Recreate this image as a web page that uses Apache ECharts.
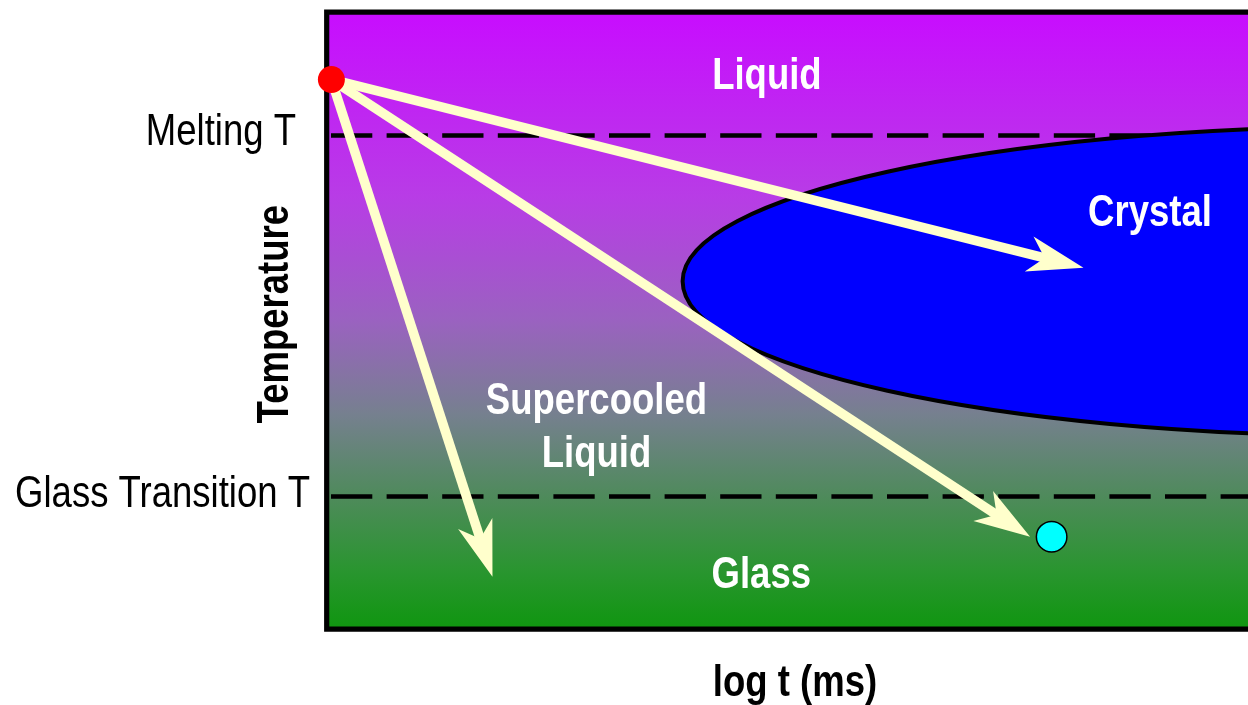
<!DOCTYPE html>
<html>
<head>
<meta charset="utf-8">
<script src="https://cdn.jsdelivr.net/npm/echarts@6/dist/echarts.min.js"></script>
<style>
html,body{margin:0;padding:0;background:#fff;}
#chart{width:1248px;height:705px;}
</style>
</head>
<body>
<div id="chart"></div>
<script>
// ---- data ----
const xRange = [0, 10];            // log t (ms), arbitrary units
const yRange = [0, 10];            // temperature, arbitrary units
const xAxisTitle = 'log t (ms)';
const yAxisTitle = 'Temperature';
const thresholdNames = ['Melting T', 'Glass Transition T'];
const thresholdTemps = [8.0, 2.15];
const startPoint = [0.05, 8.91];   // red dot (melt)
const endPoint = [7.74, 1.50];     // cyan dot (glass)
const arrowTips = [[8.08, 5.86], [1.77, 0.85], [7.51, 1.50]];
const crystalCenter = [11.27, 5.64];
const crystalRadii = [7.47, 2.51];
const regionNames = ['Liquid', 'Crystal', 'Supercooled\nLiquid', 'Glass'];
const regionX = [4.70, 8.79, 2.88, 4.64];
const regionY = [8.99, 6.78, 3.29, 0.90];

// ---- styles ----
const FONT = '"Liberation Sans", Arial, sans-serif';
const NARROW = 0.83;               // narrow typeface look
const TEXT_DY = 2.5;               // baseline tweak for cap-height centring
const ARROW = '#ffffcc';

const chart = echarts.init(document.getElementById('chart'), null, {renderer: 'canvas'});

function textEl(x, y, text, o) {
  const rot = o.rotation || 0;
  return {
    type: 'text',
    x: x + (rot ? TEXT_DY : 0),
    y: y + (rot ? 0 : TEXT_DY),
    scaleX: NARROW, rotation: rot,
    style: {
      text: text, fill: o.color, font: (o.bold ? 'bold ' : '') + '44px ' + FONT,
      align: o.align || 'center', verticalAlign: 'middle', lineHeight: o.lineHeight || 53
    }
  };
}

const thresholdSeries = thresholdTemps.map((t, i) => ({
  type: 'line',
  name: thresholdNames[i],
  data: [[xRange[0], t], [xRange[1], t]],
  symbol: 'none',
  silent: true,
  z: 1,
  lineStyle: {color: '#000', width: 4.5, type: [41.3, 14.3], dashOffset: 51.3}
}));

const labelGapX = [30.7, 16.7];   // gap from plot edge to label end
const labelRaise = [5.5, 4];

const option = {
  animation: false,
  grid: {
    left: 326.7, top: 12.2, width: 936.6, height: 617,
    show: true,
    borderColor: '#000', borderWidth: 5.2,
    outerBoundsMode: 'none',
    backgroundColor: {
      type: 'linear', x: 0, y: 0, x2: 0, y2: 1,
      colorStops: [
        {offset: 0, color: '#c80cff'},
        {offset: 0.3, color: '#b83ce6'},
        {offset: 0.5, color: '#9a62c0'},
        {offset: 0.65, color: '#76808f'},
        {offset: 0.78, color: '#4f8a5c'},
        {offset: 0.9, color: '#2a9530'},
        {offset: 1, color: '#0e960e'}
      ]
    }
  },
  xAxis: {
    type: 'value', min: xRange[0], max: xRange[1],
    axisLine: {show: false}, axisTick: {show: false},
    axisLabel: {show: false}, splitLine: {show: false}
  },
  yAxis: {
    type: 'value', min: yRange[0], max: yRange[1],
    axisLine: {show: false}, axisTick: {show: false},
    axisLabel: {show: false}, splitLine: {show: false}
  },
  series: thresholdSeries.concat([
    {
      type: 'custom',
      name: 'Crystal',
      z: 2,
      silent: true,
      data: [[crystalCenter[0], crystalCenter[1], crystalRadii[0], crystalRadii[1]]],
      encode: {x: 0, y: 1},
      renderItem: function (params, api) {
        const c = api.coord([api.value(0), api.value(1)]);
        const s = api.size([api.value(2), api.value(3)]);
        return {
          type: 'ellipse',
          shape: {cx: c[0], cy: c[1], rx: s[0], ry: s[1]},
          style: {fill: '#0000ff', stroke: '#000', lineWidth: 4}
        };
      }
    },
    {
      type: 'custom',
      name: 'paths',
      z: 3,
      silent: true,
      data: arrowTips.map(t => [startPoint[0], startPoint[1], t[0], t[1]]),
      encode: {x: [0, 2], y: [1, 3]},
      renderItem: function (params, api) {
        const p0 = api.coord([api.value(0), api.value(1)]);
        const p1 = api.coord([api.value(2), api.value(3)]);
        const dx = p1[0] - p0[0], dy = p1[1] - p0[1];
        const L = Math.hypot(dx, dy);
        const ux = dx / L, uy = dy / L, nx = -uy, ny = ux;
        const HL = 56, HW = 18, NB = 40;
        const bx = p1[0] - ux * HL, by = p1[1] - uy * HL;
        return {
          type: 'group',
          children: [
            {type: 'line', shape: {x1: p0[0], y1: p0[1], x2: p1[0] - ux * (NB - 4), y2: p1[1] - uy * (NB - 4)},
             style: {stroke: ARROW, lineWidth: 9.5}},
            {type: 'polygon', shape: {points: [
              [p1[0], p1[1]],
              [bx + nx * HW, by + ny * HW],
              [p1[0] - ux * NB, p1[1] - uy * NB],
              [bx - nx * HW, by - ny * HW]
            ]}, style: {fill: ARROW}}
          ]
        };
      }
    },
    {
      type: 'scatter', name: 'start', z: 4, silent: true,
      data: [startPoint], symbolSize: 27,
      itemStyle: {color: '#ff0000', opacity: 1}
    },
    {
      type: 'scatter', name: 'end', z: 4, silent: true,
      data: [endPoint], symbolSize: 30.5,
      itemStyle: {color: '#00ffff', borderColor: '#000', borderWidth: 1.5, opacity: 1}
    },
    {
      type: 'custom', name: 'regions', z: 5, silent: true,
      data: regionX.map((x, i) => [x, regionY[i]]),
      encode: {x: 0, y: 1},
      renderItem: function (params, api) {
        const p = api.coord([api.value(0), api.value(1)]);
        return textEl(p[0], p[1], regionNames[params.dataIndex], {color: '#fff', bold: true});
      }
    },
    {
      type: 'custom', name: 'thresholdLabels', z: 5, silent: true, clip: false,
      data: thresholdTemps.map(t => [xRange[0], t]),
      encode: {x: 0, y: 1},
      renderItem: function (params, api) {
        const i = params.dataIndex;
        const p = api.coord([api.value(0), api.value(1)]);
        return textEl(p[0] - labelGapX[i], p[1] - labelRaise[i], thresholdNames[i], {color: '#000', align: 'right'});
      }
    },
    {
      type: 'custom', name: 'axisTitles', z: 5, silent: true, clip: false,
      data: [[(xRange[0] + xRange[1]) / 2, yRange[0]], [xRange[0], (yRange[0] + yRange[1]) / 2]],
      encode: {x: 0, y: 1},
      renderItem: function (params, api) {
        const p = api.coord([api.value(0), api.value(1)]);
        if (params.dataIndex === 0) {
          return textEl(p[0], p[1] + 52, xAxisTitle, {color: '#000', bold: true});
        }
        return textEl(p[0] - 53.3, p[1] - 6.5, yAxisTitle, {color: '#000', bold: true, rotation: Math.PI / 2});
      }
    }
  ])
};

chart.setOption(option);
</script>
</body>
</html>
